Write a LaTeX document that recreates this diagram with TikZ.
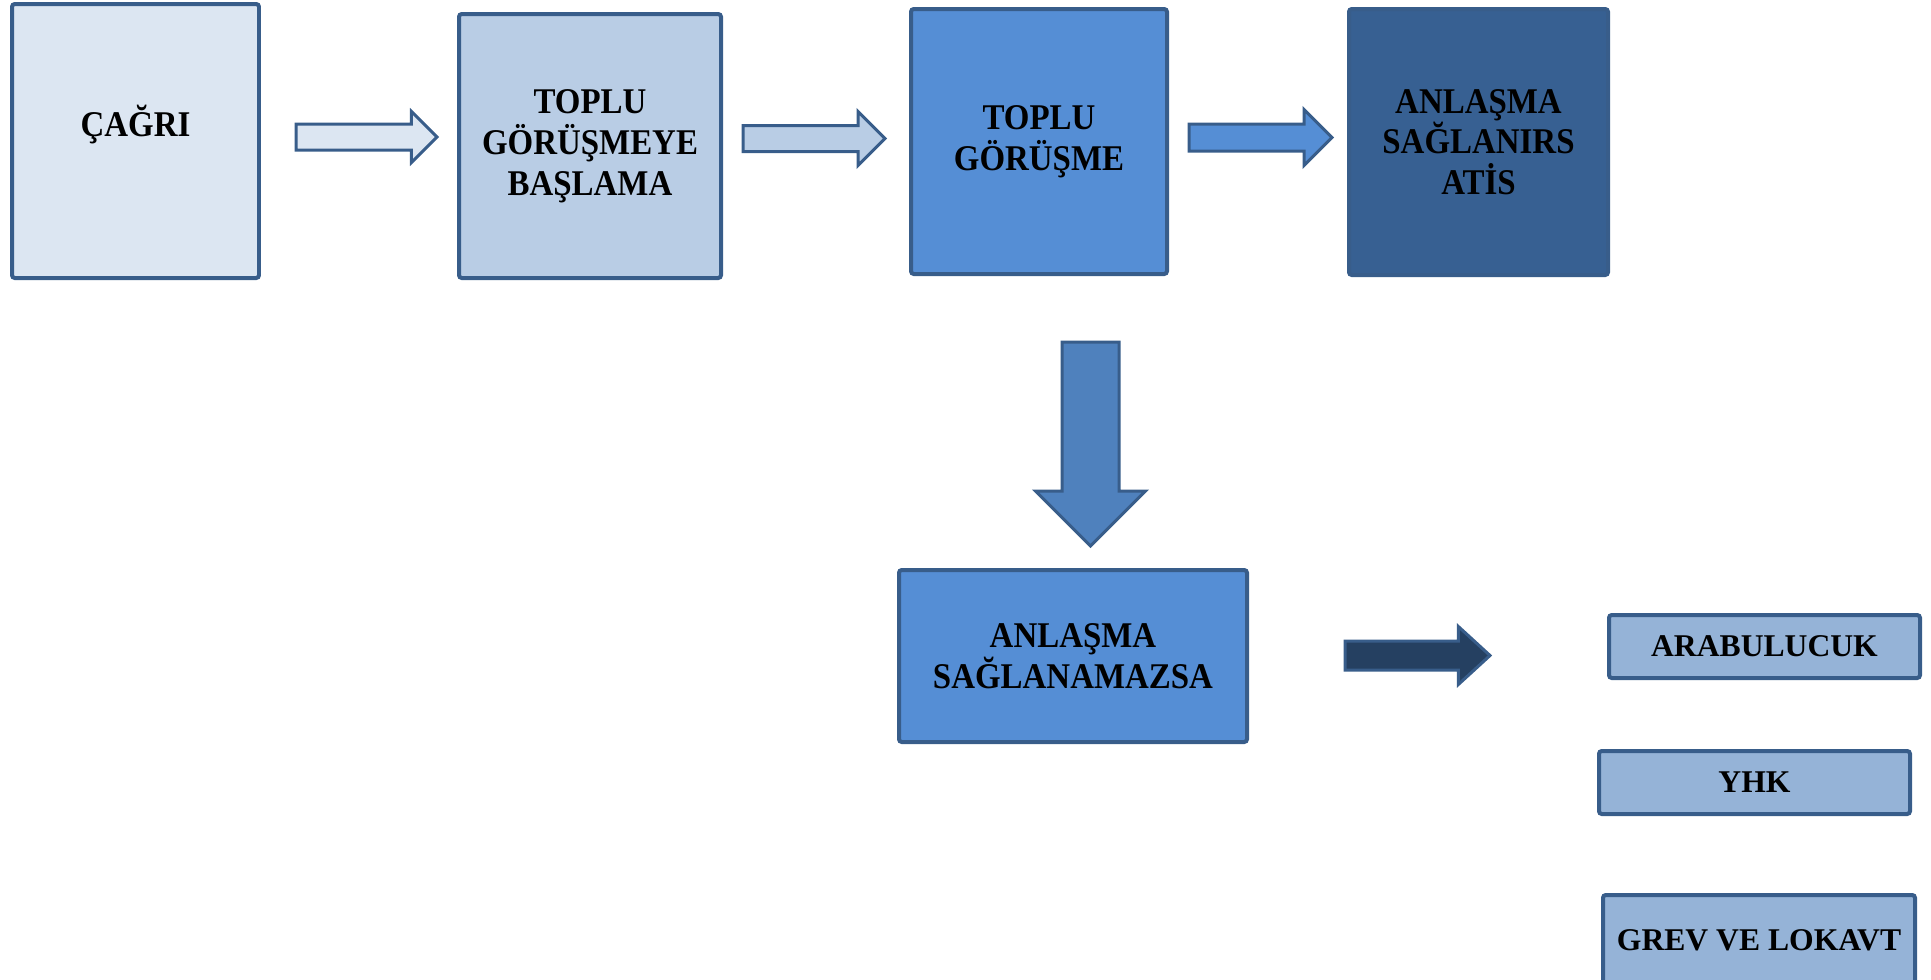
\documentclass[tikz,border=0pt]{standalone}
\usepackage{fontspec}
\setmainfont{Liberation Serif}
\newfontfamily\boxfont[FakeStretch=0.91]{Liberation Serif}
\usetikzlibrary{shapes.arrows}

\definecolor{edgeblue}{HTML}{385D8A}
\definecolor{palefill}{HTML}{DCE6F2}
\definecolor{lightfill}{HTML}{B9CDE5}
\definecolor{midfill}{HTML}{558ED5}
\definecolor{darkfill}{HTML}{376092}
\definecolor{smallfill}{HTML}{95B3D7}
\definecolor{downfill}{HTML}{4F81BD}
\definecolor{navyfill}{HTML}{254061}

\begin{document}
\begin{tikzpicture}[x=0.1mm, y=-0.1mm,
	bigbox/.style={draw=edgeblue, line width=0.4mm, rounded corners=0.8pt, align=center, inner sep=0pt,
		font=\boxfont\bfseries\fontsize{10.3}{11.6}\selectfont},
	smallbox/.style={draw=edgeblue, line width=0.4mm, rounded corners=0.8pt, fill=smallfill, inner sep=0pt,
		minimum width=31.1mm, font=\bfseries\fontsize{9}{10.5}\selectfont},
	blockarrow/.style={single arrow, draw=edgeblue, line width=0.3mm, inner xsep=0pt, anchor=tail, single arrow tip angle=90}]
	\useasboundingbox (0,0) rectangle (1931,980);
	
	\node	(cagri) at (135.5,141) [bigbox, fill=palefill, minimum width=24.7mm, minimum height=27.4mm] {ÇAĞRI\\\mbox{}};
	\node	(baslama) at (590,146) [bigbox, fill=lightfill, minimum width=26.2mm, minimum height=26.4mm] {TOPLU\\GÖRÜŞMEYE\\BAŞLAMA};
	\node	(gorusme) at (1039,141.5) [bigbox, fill=midfill, minimum width=25.6mm, minimum height=26.5mm] {TOPLU\\GÖRÜŞME};
	\node	(saglanirsa) at (1478.5,142) [bigbox, fill=darkfill, minimum width=25.9mm, minimum height=26.6mm] {ANLAŞMA\\SAĞLANIRS\\ATİS};
	\node	(saglanamazsa) at (1073,656) [bigbox, fill=midfill, minimum width=34.8mm, minimum height=17.2mm] {ANLAŞMA\\SAĞLANAMAZSA};
	
	\node	(arabulucuk) at (1764.5,646.5) [smallbox, minimum height=6.3mm] {ARABULUCUK};
	\node	(yhk) at (1754.5,782.5) [smallbox, minimum height=6.3mm] {YHK};
	\node	(grev) at (1759,940) [smallbox, minimum width=31.2mm, minimum height=9mm] {GREV VE LOKAVT};
	
	% block arrows
	\node	(a1) at (294.5,137) [blockarrow, fill=palefill, minimum height=14.1mm, inner ysep=1.15mm, single arrow head extend=1.25mm] {};
	\node	(a2) at (741.5,138.5) [blockarrow, fill=lightfill, minimum height=14.2mm, inner ysep=1.15mm, single arrow head extend=1.4mm] {};
	\node	(a3) at (1187.5,137.5) [blockarrow, fill=midfill, minimum height=14.3mm, inner ysep=1.2mm, single arrow head extend=1.45mm] {};
	\node	(a4) at (1090.5,340.5) [blockarrow, fill=downfill, rotate=-90, minimum height=20.4mm, inner ysep=2.7mm, single arrow head extend=2.65mm] {};
	\node	(a5) at (1343.5,655.5) [blockarrow, fill=navyfill, minimum height=14.5mm, inner ysep=1.3mm, single arrow head extend=1.45mm, single arrow tip angle=85] {};
\end{tikzpicture}
\end{document}
